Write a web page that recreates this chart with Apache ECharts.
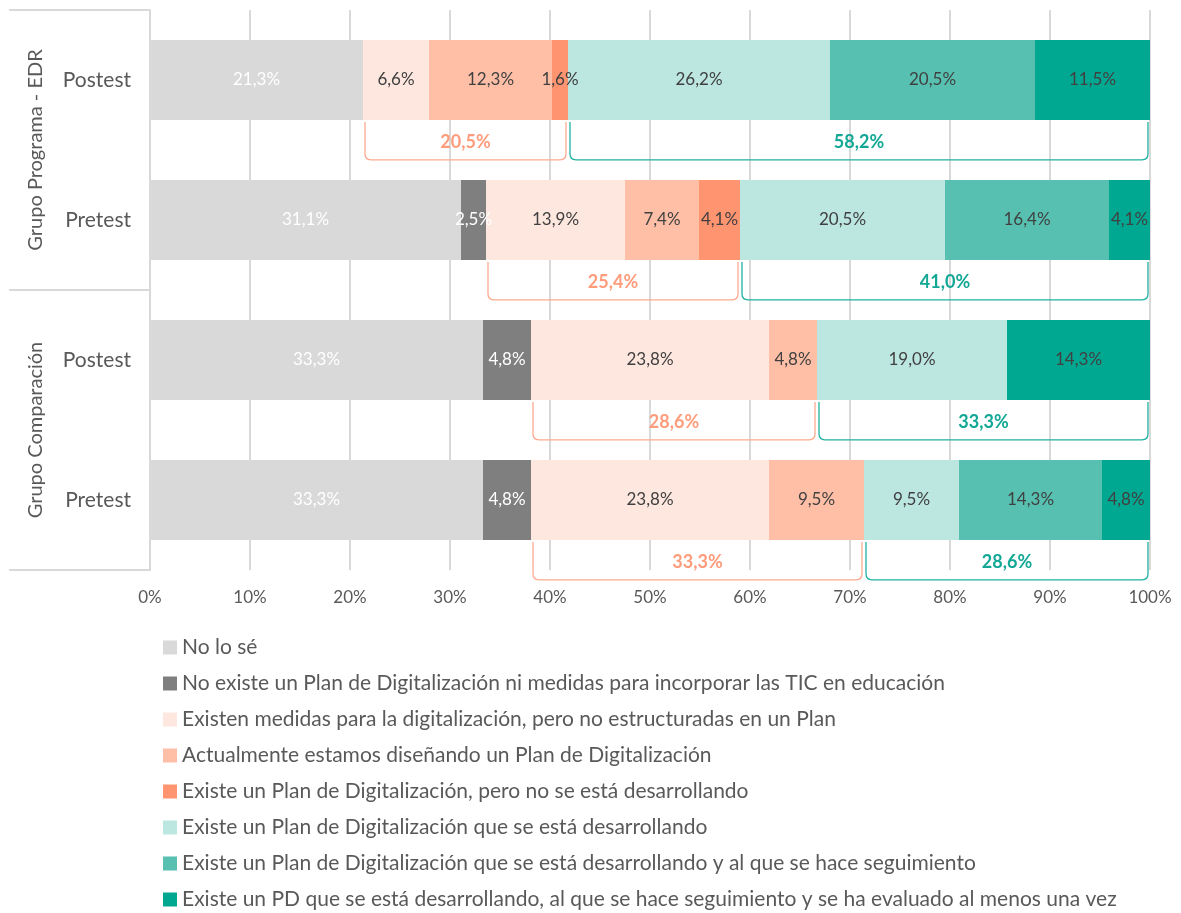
<!DOCTYPE html>
<html>
<head>
<meta charset="utf-8">
<script src="https://cdn.jsdelivr.net/npm/echarts@6/dist/echarts.min.js"></script>
<style>
  html, body { margin: 0; padding: 0; background: #fff; }
  #chart { width: 1181px; height: 913px; }
</style>
</head>
<body>
<div id="chart"></div>
<script>
// Rows, top to bottom
const rows = ['Postest', 'Pretest', 'Postest', 'Pretest'];
const groups = ['Grupo Programa - EDR', 'Grupo Comparación'];
const tickLabels = ['0%', '10%', '20%', '30%', '40%', '50%', '60%', '70%', '80%', '90%', '100%'];

const categories = [
  'No lo sé',
  'No existe un Plan de Digitalización ni medidas para incorporar las TIC en educación',
  'Existen medidas para la digitalización, pero no estructuradas en un Plan',
  'Actualmente estamos diseñando un Plan de Digitalización',
  'Existe un Plan de Digitalización, pero no se está desarrollando',
  'Existe un Plan de Digitalización que se está desarrollando',
  'Existe un Plan de Digitalización que se está desarrollando y al que se hace seguimiento',
  'Existe un PD que se está desarrollando, al que se hace seguimiento y se ha evaluado al menos una vez'
];

// Percentages per response category (one value per row); null = no answers
const noLoSe        = [21.3, 31.1, 33.3, 33.3];
const noExiste      = [null, 2.5, 4.8, 4.8];
const existenMedidas = [6.6, 13.9, 23.8, 23.8];
const disenando     = [12.3, 7.4, 4.8, 9.5];
const noDesarrollo  = [1.6, 4.1, null, null];
const desarrollando = [26.2, 20.5, 19.0, 9.5];
const seguimiento   = [20.5, 16.4, null, 14.3];
const evaluado      = [11.5, 4.1, 14.3, 4.8];

// Totals shown under the bars
const sumInicial  = [20.5, 25.4, 28.6, 33.3];
const sumAvanzado = [58.2, 41.0, 33.3, 28.6];

const seriesValues = [noLoSe, noExiste, existenMedidas, disenando, noDesarrollo, desarrollando, seguimiento, evaluado];
const colors = ['#D9D9D9', '#7F7F7F', '#FDE7DF', '#FFBFA7', '#FF9470', '#BCE6E0', '#57C0B1', '#00A892'];
const labelColors = ['#ffffff', '#ffffff', '#404040', '#404040', '#404040', '#404040', '#404040', '#404040'];

const FONT = 'Lato, "Open Sans", sans-serif';
const fmt = v => v.toFixed(1).replace('.', ',') + '%';

// Bracket spans derived from the stacked values
const bracketData = [];
rows.forEach((r, i) => {
  const start = (noLoSe[i] || 0) + (noExiste[i] || 0);
  const mid = start + sumInicial[i];
  bracketData.push([i, start, mid, sumInicial[i], 0]);
  bracketData.push([i, mid, 100, sumAvanzado[i], 1]);
});
const bracketColors = ['#FFAA8E', '#1FB2A0'];
const bracketText = ['#FF9C7C', '#12A895'];

const series = seriesValues.map((vals, k) => ({
  name: categories[k],
  type: 'bar',
  stack: 'total',
  barWidth: 80,
  data: vals,
  itemStyle: { color: colors[k] },
  label: {
    show: true,
    position: 'inside',
    color: labelColors[k],
    fontFamily: FONT,
    fontSize: 17,
    formatter: p => fmt(p.value)
  },
  emphasis: { disabled: true }
}));

// Brackets under each bar with the summed percentages
series.push({
  type: 'custom',
  xAxisIndex: 0,
  yAxisIndex: 0,
  silent: true,
  data: bracketData,
  z: 5,
  renderItem: function (params, api) {
    const row = api.value(0);
    const p0 = api.coord([api.value(1), row]);
    const p1 = api.coord([api.value(2), row]);
    const band = api.size([0, 1])[1];
    const top = p0[1] + band * 0.3;
    const bottom = p0[1] + band * 0.57;
    const x0 = p0[0] + 2, x1 = p1[0] - 2;
    const r = 6;
    const kind = api.value(4);
    return {
      type: 'group',
      children: [{
        type: 'path',
        shape: {
          pathData: `M${x0},${top} L${x0},${bottom - r} Q${x0},${bottom} ${x0 + r},${bottom} L${x1 - r},${bottom} Q${x1},${bottom} ${x1},${bottom - r} L${x1},${top}`
        },
        style: { fill: null, stroke: bracketColors[kind], lineWidth: 1.3 }
      }, {
        type: 'text',
        style: {
          x: (x0 + x1) / 2,
          y: (top + bottom) / 2 + 1,
          text: fmt(api.value(3)),
          fill: bracketText[kind],
          font: 'bold 18px ' + FONT,
          align: 'center',
          verticalAlign: 'middle'
        }
      }]
    };
  }
});

// Vertical group titles, centred on each group's band
series.push({
  type: 'custom',
  xAxisIndex: 0,
  yAxisIndex: 1,
  silent: true,
  clip: false,
  data: groups.map((g, i) => [0, i]),
  renderItem: function (params, api) {
    const p = api.coord([0, api.value(1)]);
    return {
      type: 'text',
      x: p[0] - 114,
      y: p[1],
      rotation: Math.PI / 2,
      style: {
        text: groups[params.dataIndex],
        fill: '#595959',
        font: '20px ' + FONT,
        align: 'center',
        verticalAlign: 'middle'
      }
    };
  }
});

const chart = echarts.init(document.getElementById('chart'), null, { renderer: 'canvas' });
chart.setOption({
  animation: false,
  backgroundColor: '#ffffff',
  grid: { left: 150, right: 31, top: 10, bottom: 343, containLabel: false },
  xAxis: {
    type: 'value',
    min: 0,
    max: 100,
    interval: 10,
    axisLine: { show: false },
    axisTick: { show: false },
    splitLine: { show: true, lineStyle: { color: '#D9D9D9', width: 2 } },
    axisLabel: {
      color: '#595959',
      fontFamily: FONT,
      fontSize: 17,
      margin: 19,
      formatter: v => tickLabels[Math.round(v / 10)]
    }
  },
  yAxis: [{
    type: 'category',
    data: rows,
    inverse: true,
    axisLine: { show: true, lineStyle: { color: '#D9D9D9', width: 2 } },
    axisTick: { show: false },
    axisLabel: { color: '#595959', fontFamily: FONT, fontSize: 21, margin: 19 }
  }, {
    type: 'category',
    data: groups,
    inverse: true,
    position: 'left',
    axisLine: { show: false },
    axisTick: { show: true, length: 141, lineStyle: { color: '#D9D9D9', width: 2 } },
    axisLabel: { show: false }
  }],
  legend: {
    orient: 'vertical',
    left: 158,
    top: 632,
    height: 300,
    itemWidth: 14,
    itemHeight: 14,
    itemGap: 15,
    icon: 'rect',
    selectedMode: false,
    data: categories,
    textStyle: { color: '#595959', fontFamily: FONT, fontSize: 21, lineHeight: 21 }
  },
  series: series
});
</script>
</body>
</html>
